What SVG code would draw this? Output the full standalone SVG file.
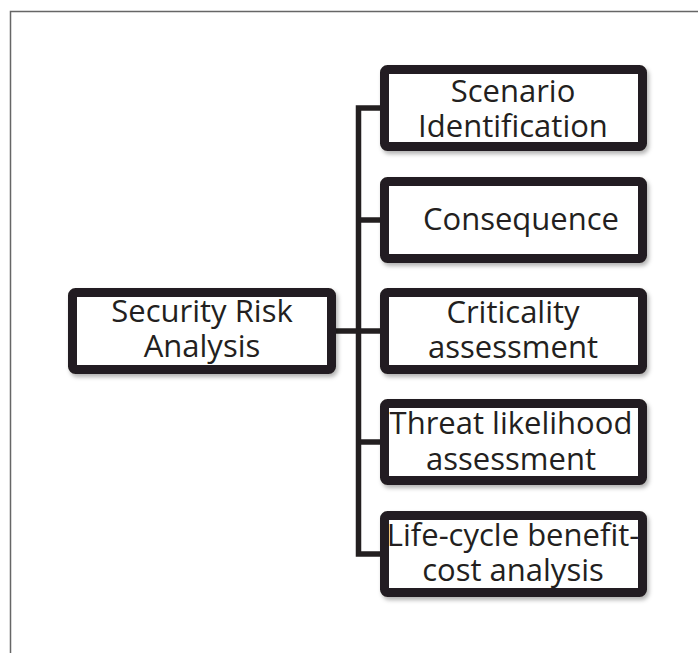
<svg xmlns="http://www.w3.org/2000/svg" width="698" height="653" viewBox="0 0 698 653">
<defs>
<filter id="sh" x="-10%" y="-20%" width="125%" height="150%">
<feDropShadow dx="2" dy="3" stdDeviation="2" flood-color="#000" flood-opacity="0.3"/>
</filter>
</defs>
<style>
.box{fill:#fff;stroke:#231f20;stroke-width:9;filter:url(#sh)}
.lbl{font-family:"Open Sans","Noto Sans",sans-serif;font-size:31px;fill:#231f20;text-anchor:middle}
.con{stroke:#231f20;stroke-width:5.5;fill:none}
.frame{stroke:#666;stroke-width:1.5;fill:none}
</style>
<rect width="698" height="653" fill="#fff"/>
<path class="frame" d="M10.5,653 V11.5 H698"/>
<g id="connectors">
<path class="con" d="M380,108 H358.5 V554 H380"/>
<path class="con" d="M336,331 H380"/>
<path class="con" d="M358.5,220 H380"/>
<path class="con" d="M358.5,442 H380"/>
</g>
<g id="security-risk-analysis">
<rect class="box" x="72.5" y="292.5" width="259" height="77" rx="3"/>
<text class="lbl" x="202" y="322">Security Risk</text>
<text class="lbl" x="202" y="357">Analysis</text>
</g>
<g id="scenario-identification">
<rect class="box" x="384.5" y="69.5" width="258" height="77" rx="3"/>
<text class="lbl" x="513" y="102">Scenario</text>
<text class="lbl" x="513" y="137">Identification</text>
</g>
<g id="consequence">
<rect class="box" x="384.5" y="181.5" width="258" height="77" rx="3"/>
<text class="lbl" x="521" y="230">Consequence</text>
</g>
<g id="criticality-assessment">
<rect class="box" x="384.5" y="292.5" width="258" height="77" rx="3"/>
<text class="lbl" x="513" y="323">Criticality</text>
<text class="lbl" x="513" y="358">assessment</text>
</g>
<g id="threat-likelihood-assessment">
<rect class="box" x="384.5" y="403.5" width="258" height="77" rx="3"/>
<text class="lbl" x="511" y="434">Threat likelihood</text>
<text class="lbl" x="511" y="470">assessment</text>
</g>
<g id="life-cycle-analysis">
<rect class="box" x="384.5" y="515.5" width="258" height="77" rx="3"/>
<text class="lbl" x="513" y="546">Life-cycle benefit-</text>
<text class="lbl" x="513" y="581">cost analysis</text>
</g>
</svg>
